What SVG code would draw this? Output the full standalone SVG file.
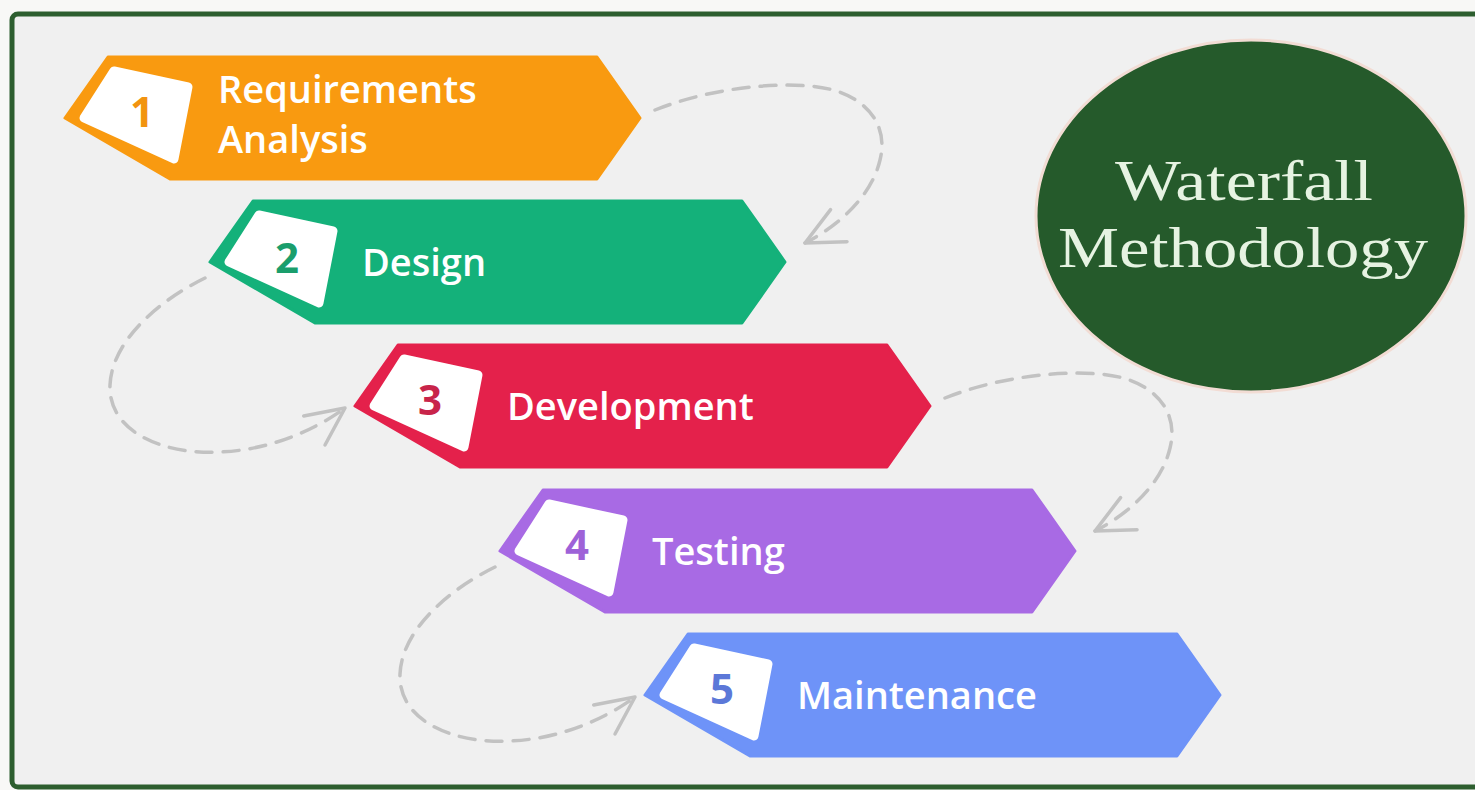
<svg xmlns="http://www.w3.org/2000/svg" xmlns:xlink="http://www.w3.org/1999/xlink" width="1475" height="790" viewBox="0 0 1475 790">
<defs>
<style>
.lbl{font-family:"Open Sans","Liberation Sans",sans-serif;font-weight:600;font-size:38px;fill:#FFFFFF}
.num{font-family:"Open Sans","Liberation Sans",sans-serif;font-weight:700;font-size:42px;text-anchor:middle}
.conn{fill:none;stroke:#C2C2C2;stroke-width:3.5;stroke-dasharray:16 11;stroke-linecap:round}
.ttl{font-family:"Liberation Serif","DejaVu Serif",serif;font-size:58px;fill:#E6F3E2;text-anchor:middle}
</style>
<polygon id="chev" points="0,0 43,-61 532,-61 575,0 532,61 105,61" stroke-linejoin="round" stroke-width="3"/>
<polygon id="badge" points="19,0 49,-47 123,-31 109,41" fill="#FFFFFF" stroke="#FFFFFF" stroke-width="9" stroke-linejoin="round"/>
<marker id="arr" markerUnits="userSpaceOnUse" viewBox="-45 -25 50 50" refX="0" refY="0" markerWidth="50" markerHeight="50" orient="auto">
<path d="M -38 -18 L 0 0 L -38 18" fill="none" stroke="#C2C2C2" stroke-width="3.5" stroke-linecap="round" stroke-linejoin="round"/>
</marker>
</defs>
<rect x="0" y="0" width="1475" height="790" fill="#F8F8F6"/>
<rect x="12" y="14" width="1485" height="773" rx="6" fill="#F0F0F0" stroke="#2D5E2F" stroke-width="5"/>

<g id="connectors">
<path class="conn" marker-end="url(#arr)" d="M 655 110 C 700 92, 760 82, 810 86 C 860 90, 890 120, 880 160 C 872 195, 840 225, 805 243"/>
<path class="conn" marker-end="url(#arr)" d="M 205 278 C 160 300, 112 340, 110 385 C 108 430, 160 455, 220 452 C 270 450, 315 430, 345 408"/>
<path class="conn" marker-end="url(#arr)" d="M 945 398 C 990 380, 1050 370, 1100 374 C 1150 378, 1180 408, 1170 448 C 1162 483, 1130 513, 1095 531"/>
<path class="conn" marker-end="url(#arr)" d="M 495 567 C 450 589, 402 629, 400 674 C 398 719, 450 744, 510 741 C 560 739, 605 719, 635 697"/>
</g>

<g id="step1" transform="translate(65,118)">
<use xlink:href="#chev" fill="#F99A10" stroke="#F99A10"/>
<use xlink:href="#badge"/>
<text class="num" x="77" y="9" fill="#F29410">1</text>
<text class="lbl" x="153" y="-15" font-size="35">Requirements</text>
<text class="lbl" x="153" y="35" font-size="35">Analysis</text>
</g>

<g id="step2" transform="translate(210,262)">
<use xlink:href="#chev" fill="#14B17A" stroke="#14B17A"/>
<use xlink:href="#badge"/>
<text class="num" x="77" y="11" fill="#1A9E6C">2</text>
<text class="lbl" x="152" y="14">Design</text>
</g>

<g id="step3" transform="translate(355,406)">
<use xlink:href="#chev" fill="#E4214B" stroke="#E4214B"/>
<use xlink:href="#badge"/>
<text class="num" x="75" y="9" fill="#C8244A">3</text>
<text class="lbl" x="152" y="14">Development</text>
</g>

<g id="step4" transform="translate(500,551)">
<use xlink:href="#chev" fill="#A86AE4" stroke="#A86AE4"/>
<use xlink:href="#badge"/>
<text class="num" x="77" y="9" fill="#9E62D8">4</text>
<text class="lbl" x="152" y="14">Testing</text>
</g>

<g id="step5" transform="translate(645,695)">
<use xlink:href="#chev" fill="#6E93F8" stroke="#6E93F8"/>
<use xlink:href="#badge"/>
<text class="num" x="77" y="9" fill="#5C78D8">5</text>
<text class="lbl" x="152" y="14">Maintenance</text>
</g>

<g id="title">
<ellipse cx="1251" cy="216" rx="215" ry="176" fill="#255A2B" stroke="#F2DCD4" stroke-width="3"/>
<text class="ttl" x="1244" y="200" textLength="258" lengthAdjust="spacingAndGlyphs">Waterfall</text>
<text class="ttl" x="1243" y="267" textLength="370" lengthAdjust="spacingAndGlyphs">Methodology</text>
</g>
</svg>
